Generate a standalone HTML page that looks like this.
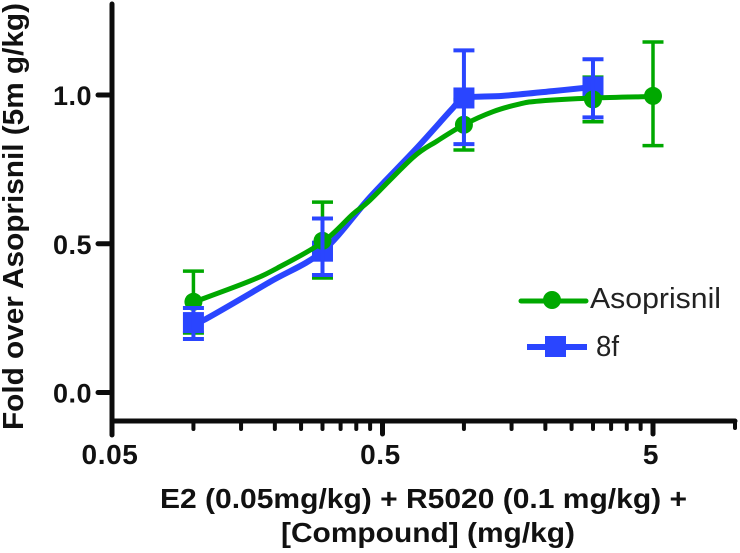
<!DOCTYPE html>
<html lang="en">
<head>
<meta charset="utf-8">
<title>Fold over Asoprisnil dose response</title>
<style>
  html, body { margin: 0; padding: 0; background: #fff; }
  svg { display: block; font-family: "Liberation Sans", sans-serif; }
  .bold { font-weight: bold; fill: #111; }
</style>
</head>
<body>
<svg id="chart" xmlns="http://www.w3.org/2000/svg" width="740" height="553" viewBox="0 0 740 553">
  <g id="axes"></g>
  <g id="marks"></g>
  <text class="bold" transform="translate(23,430) rotate(-90)" font-size="29" textLength="427" lengthAdjust="spacingAndGlyphs">Fold over Asoprisnil (5m g/kg)</text>
  <text class="bold" x="160" y="508" font-size="28" textLength="527" lengthAdjust="spacingAndGlyphs">E2 (0.05mg/kg) + R5020 (0.1 mg/kg) +</text>
  <text class="bold" x="281" y="542" font-size="28" textLength="294" lengthAdjust="spacingAndGlyphs">[Compound] (mg/kg)</text>
  <g>
    <g>
      <line x1="521" y1="301" x2="586" y2="301" stroke="#00a800" stroke-width="5" stroke-linecap="round"/>
      <circle cx="552" cy="300" r="9" fill="#00a800"/>
      <text x="590" y="308" font-size="29" fill="#222" textLength="131" lengthAdjust="spacingAndGlyphs">Asoprisnil</text>
    </g>
    <g>
      <line x1="527" y1="347" x2="587" y2="347" stroke="#2a45ff" stroke-width="6"/>
      <rect x="545" y="336" width="21" height="21" fill="#2a45ff"/>
      <text x="596" y="356" font-size="29" fill="#222" textLength="23" lengthAdjust="spacingAndGlyphs">8f</text>
    </g>
  </g>
</svg>
<script>
// Axis tick values
const yTicks = [0, 0.5, 1];
const yTickLabels = ["0.0", "0.5", "1.0"];
const xMajorTicks = [0.05, 0.5, 5];
const xTickLabels = ["0.05", "0.5", "5"];
const xMinorTicks = [0.1, 0.15, 0.2, 0.25, 0.3, 0.35, 0.4, 0.45, 1, 1.5, 2, 2.5, 3, 3.5, 4, 4.5];

// Asoprisnil measurements
const asoDoses = [0.1, 0.3, 1, 3, 5];
const asoValues = [0.305, 0.51, 0.90, 0.985, 0.997];
const asoLow = [0.20, 0.385, 0.815, 0.91, 0.83];
const asoHigh = [0.408, 0.64, 0.985, 1.06, 1.178];

// Asoprisnil fitted curve
const asoCurveDoses = [0.1, 0.106, 0.162, 0.204, 0.3, 0.389, 0.45, 0.648, 0.795, 1, 1.28, 1.61, 1.91, 3, 5];
const asoCurveValues = [0.305, 0.312, 0.375, 0.418, 0.505, 0.60, 0.647, 0.79, 0.845, 0.90, 0.944, 0.97, 0.98, 0.99, 0.995];

// 8f measurements
const f8Doses = [0.1, 0.3, 1, 3];
const f8Values = [0.235, 0.475, 0.99, 1.027];
const f8Low = [0.18, 0.395, 0.835, 0.925];
const f8High = [0.284, 0.585, 1.15, 1.12];

// 8f fitted curve
const f8CurveDoses = [0.1, 0.11, 0.192, 0.3, 0.45, 0.67, 0.91, 1, 1.39, 2.13, 3];
const f8CurveValues = [0.235, 0.245, 0.372, 0.475, 0.657, 0.822, 0.956, 0.99, 0.997, 1.013, 1.027];

const SVGNS = "http://www.w3.org/2000/svg";
const axes = document.getElementById("axes");
const marks = document.getElementById("marks");

function xPos(d) { return 112 + 270.5 * Math.log10(d / 0.05); }
function yPos(v) { return 392.5 - 297.5 * v; }

function mk(parent, tag, attrs) {
  const el = document.createElementNS(SVGNS, tag);
  for (const k in attrs) el.setAttribute(k, attrs[k]);
  parent.appendChild(el);
  return el;
}

// Axis lines
const yAxisLine = mk(axes, "line", { x1: 112, y1: 4, x2: 112, y2: 435, stroke: "#0c0c0c", "stroke-width": 5, "stroke-linecap": "round" });


const xAxisLine = mk(axes, "line", { x1: 112, y1: 421, x2: 735, y2: 421, stroke: "#0c0c0c", "stroke-width": 5, "stroke-linecap": "round" });


const xAxisEnd = mk(axes, "line", { x1: 735, y1: 421, x2: 735, y2: 428, stroke: "#0c0c0c", "stroke-width": 4, "stroke-linecap": "round" });



// Y ticks
yTicks.forEach(function (t, i) {
  const tick = mk(axes, "line", { x1: 98, y1: yPos(t), x2: 112, y2: yPos(t), stroke: "#0c0c0c", "stroke-width": 5, "stroke-linecap": "round" });
  
  
  const label = mk(axes, "text", { x: 92, y: yPos(t) + 10, "text-anchor": "end", "font-size": 27, "letter-spacing": 0.5, class: "bold" });
  
  
  label.textContent = yTickLabels[i];
});

// X major ticks
xMajorTicks.forEach(function (t, i) {
  const tick = mk(axes, "line", { x1: xPos(t), y1: 421, x2: xPos(t), y2: 434, stroke: "#0c0c0c", "stroke-width": 5, "stroke-linecap": "round" });
  
  
  const label = mk(axes, "text", { x: xPos(t) - 2, y: 464, "text-anchor": "middle", "font-size": 28, "letter-spacing": 0.6, class: "bold" });
  
  
  label.textContent = xTickLabels[i];
});

// X minor ticks
xMinorTicks.forEach(function (t) {
  const tick = mk(axes, "line", { x1: xPos(t), y1: 421, x2: xPos(t), y2: 429, stroke: "#0c0c0c", "stroke-width": 4, "stroke-linecap": "round" });
  
  
});

function drawErrors(doses, low, high, color, sw, name) {
  doses.forEach(function (d, i) {
    const g = mk(marks, "g", { stroke: color, "stroke-width": sw });
    
    
    const x = xPos(d);
    mk(g, "line", { x1: x, y1: yPos(low[i]), x2: x, y2: yPos(high[i]) });
    mk(g, "line", { x1: x - 10.5, y1: yPos(high[i]), x2: x + 10.5, y2: yPos(high[i]) });
    mk(g, "line", { x1: x - 10.5, y1: yPos(low[i]), x2: x + 10.5, y2: yPos(low[i]) });
  });
}

// Smooth path through the curve's read-off values (Catmull-Rom)
function curvePath(ds, vs) {
  const p = ds.map(function (d, i) { return [xPos(d), yPos(vs[i])]; });
  let out = "M" + p[0][0] + " " + p[0][1];
  for (let i = 0; i < p.length - 1; i++) {
    const a = p[Math.max(i - 1, 0)], b = p[i], c = p[i + 1], e = p[Math.min(i + 2, p.length - 1)];
    out += " C" + (b[0] + (c[0] - a[0]) / 6) + " " + (b[1] + (c[1] - a[1]) / 6) + " " +
      (c[0] - (e[0] - b[0]) / 6) + " " + (c[1] - (e[1] - b[1]) / 6) + " " + c[0] + " " + c[1];
  }
  return out;
}

// Green error bars sit underneath everything else
drawErrors(asoDoses, asoLow, asoHigh, "#00a800", 3.5, "asoprisnil-error-bar");

// 8f curve and squares
const f8Curve = mk(marks, "path", { d: curvePath(f8CurveDoses, f8CurveValues), fill: "none", stroke: "#2a45ff", "stroke-width": 6 });


f8Doses.forEach(function (d, i) {
  const sq = mk(marks, "rect", { x: xPos(d) - 10.5, y: yPos(f8Values[i]) - 10.5, width: 21, height: 21, fill: "#2a45ff" });
  
  
});

// Asoprisnil curve and circles
const asoCurve = mk(marks, "path", { d: curvePath(asoCurveDoses, asoCurveValues), fill: "none", stroke: "#00a800", "stroke-width": 5 });


asoDoses.forEach(function (d, i) {
  const c = mk(marks, "circle", { cx: xPos(d), cy: yPos(asoValues[i]), r: 9, fill: "#00a800" });
  
  
});

// Blue error bars on top
drawErrors(f8Doses, f8Low, f8High, "#2a45ff", 4, "8f-error-bar");
</script>
</body>
</html>
